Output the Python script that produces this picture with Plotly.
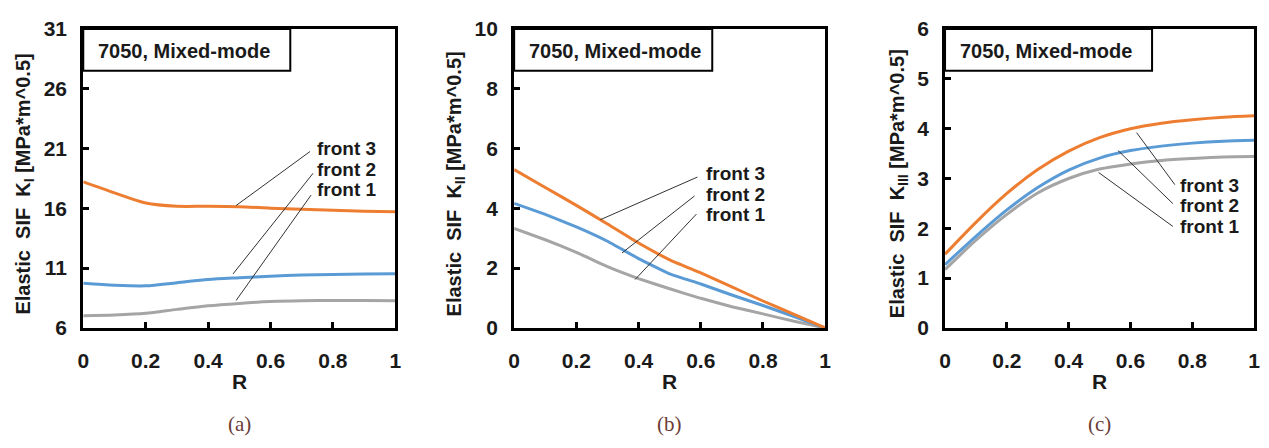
import plotly.graph_objects as go

# Normalised crack-front position
R = [0.0, 0.1, 0.2, 0.3, 0.4, 0.5, 0.6, 0.7, 0.8, 0.9, 1.0]

# Mode I SIF (MPa*m^0.5)
KI_front1 = [7.02, 7.08, 7.22, 7.55, 7.85, 8.05, 8.20, 8.27, 8.29, 8.29, 8.28]
KI_front2 = [9.73, 9.57, 9.52, 9.78, 10.05, 10.20, 10.33, 10.42, 10.47, 10.51, 10.53]
KI_front3 = [18.22, 17.30, 16.45, 16.18, 16.18, 16.14, 16.02, 15.92, 15.85, 15.77, 15.72]

# Mode II SIF
KII_front1 = [3.33, 2.95, 2.53, 2.05, 1.65, 1.31, 0.99, 0.71, 0.47, 0.22, 0.0]
KII_front2 = [4.17, 3.80, 3.38, 2.90, 2.32, 1.81, 1.47, 1.10, 0.75, 0.38, 0.0]
KII_front3 = [5.30, 4.70, 4.10, 3.48, 2.84, 2.28, 1.84, 1.37, 0.90, 0.45, 0.0]

# Mode III SIF
KIII_front1 = [1.17, 1.76, 2.28, 2.71, 3.00, 3.19, 3.29, 3.36, 3.40, 3.43, 3.44]
KIII_front2 = [1.27, 1.84, 2.37, 2.82, 3.17, 3.41, 3.56, 3.65, 3.71, 3.75, 3.77]
KIII_front3 = [1.48, 2.12, 2.70, 3.18, 3.55, 3.82, 4.00, 4.11, 4.18, 4.23, 4.26]

series_labels = ["front 1", "front 2", "front 3"]
line_colors = ["#A5A5A5", "#5B9BD5", "#ED7D31"]
x_ticks = [0, 0.2, 0.4, 0.6, 0.8, 1]
x_ticktext = ["0", "0.2", "0.4", "0.6", "0.8", "1"]

panels = [
    dict(data=[KI_front1, KI_front2, KI_front3], yrange=[6, 31], ytick=[6, 11, 16, 21, 26, 31],
         sub="I", caption="(a)", xdom=(78, 393), ytitle_x=19, smoothing=0.8, box_w=209,
         leaders=[(0.49, 8.3), (0.48, 10.52), (0.49, 16.24)],
         label_px=(312, [187, 166, 144]), leader_start_px=[(308, 193), (310, 170), (307, 147)]),
    dict(data=[KII_front1, KII_front2, KII_front3], yrange=[0, 10], ytick=[0, 2, 4, 6, 8, 10],
         sub="II", caption="(b)", xdom=(513, 827), ytitle_x=454, smoothing=0.3, box_w=200,
         leaders=[(0.389, 1.62), (0.347, 2.51), (0.277, 3.62)],
         label_px=(705, [213, 192, 170]), leader_start_px=[(697, 213), (695, 194), (698, 174)]),
    dict(data=[KIII_front1, KIII_front2, KIII_front3], yrange=[0, 6], ytick=[0, 1, 2, 3, 4, 5, 6],
         sub="III", caption="(c)", xdom=(948, 1260), ytitle_x=901, smoothing=0.8, box_w=209,
         leaders=[(0.497, 3.12), (0.56, 3.56), (0.62, 3.92)],
         label_px=(1183, [226, 204, 183]), leader_start_px=[(1178, 226), (1178, 202), (1180, 182)]),
]

W, H = 1269, 448
TOP, BOTTOM = 18, 333
SANS = "Liberation Sans, Arial, sans-serif"
INK = "#1a1a1a"


def px(x):
    return x / W


def py(y):
    return 1 - y / H


def b(s):
    return "<b>" + s + "</b>"


fig = go.Figure()
annotations = []
shapes = []
tick_font = dict(family=SANS, size=21, color=INK)

for i, p in enumerate(panels):
    n = "" if i == 0 else str(i + 1)
    xa, ya = "x" + n, "y" + n
    for vals, lab, col in zip(p["data"], series_labels, line_colors):
        fig.add_trace(go.Scatter(x=R, y=vals, mode="lines", name=lab, showlegend=False,
                                 line=dict(color=col, width=3, shape="spline",
                                           smoothing=p["smoothing"]),
                                 xaxis=xa, yaxis=ya))
    axis_common = dict(showline=True, linewidth=3, linecolor="black", mirror=True,
                       ticks="inside", ticklen=6, tickwidth=3, tickcolor="black",
                       showgrid=False, zeroline=False, tickfont=tick_font)
    x0, x1 = p["xdom"]
    fig.update_layout(**{
        "xaxis" + n: dict(domain=[px(x0), px(x1)], range=[0, 1], tickvals=x_ticks,
                          ticktext=[b(t) for t in x_ticktext], anchor=ya,
                          ticklabelstandoff=12, **axis_common),
        "yaxis" + n: dict(domain=[py(BOTTOM), py(TOP)], range=p["yrange"], tickvals=p["ytick"],
                          ticktext=[b(str(t)) for t in p["ytick"]], anchor=xa,
                          ticklabelstandoff=9, **axis_common),
    })
    xc = (x0 + x1) / 2
    # x-axis title
    annotations.append(dict(text=b("R"), x=px(xc), y=py(389), xref="paper", yref="paper",
                            showarrow=False, font=dict(family=SANS, size=21, color=INK),
                            xanchor="center", yanchor="middle"))
    # y-axis title
    annotations.append(dict(text=b("Elastic  SIF  K<sub>" + p["sub"] + "</sub> [MPa*m^0.5]"),
                            x=px(p["ytitle_x"]), y=py(181), xref="paper", yref="paper",
                            showarrow=False, textangle=-90,
                            font=dict(family=SANS, size=20, color=INK),
                            xanchor="center", yanchor="middle"))
    # panel caption
    annotations.append(dict(text=p["caption"], x=px(xc), y=py(434), xref="paper", yref="paper",
                            showarrow=False, xanchor="center", yanchor="middle",
                            font=dict(family="Liberation Serif, DejaVu Serif, serif", size=21,
                                      color="#6b3b36")))
    # boxed material label
    shapes.append(dict(type="rect", xref="paper", yref="paper",
                       x0=px(x0), x1=px(x0 + p["box_w"]), y0=py(62), y1=py(TOP),
                       line=dict(color="black", width=2), fillcolor="white", layer="above"))
    annotations.append(dict(text=b("7050, Mixed-mode"), x=px(x0 + 13), y=py(41),
                            xref="paper", yref="paper", showarrow=False,
                            xanchor="left", yanchor="middle",
                            font=dict(family=SANS, size=20, color=INK)))
    # series labels with leader lines
    lx, lys = p["label_px"]
    lo, hi = p["yrange"]
    for lab, ly, (ex, ey), (sx, sy) in zip(series_labels, lys, p["leaders"], p["leader_start_px"]):
        annotations.append(dict(text=b(lab), x=px(lx), y=py(ly), xref="paper", yref="paper",
                                showarrow=False, xanchor="left", yanchor="middle",
                                font=dict(family=SANS, size=19, color=INK)))
        shapes.append(dict(type="line", xref="paper", yref="paper",
                           x0=px(sx), y0=py(sy),
                           x1=px(x0 + ex * (x1 - x0)),
                           y1=py(BOTTOM - (ey - lo) / (hi - lo) * (BOTTOM - TOP)),
                           line=dict(color="#333333", width=1)))

fig.update_layout(width=W, height=H, margin=dict(l=0, r=0, t=0, b=0),
                  paper_bgcolor="white", plot_bgcolor="white",
                  annotations=annotations, shapes=shapes)

fig.write_html("out.html")
